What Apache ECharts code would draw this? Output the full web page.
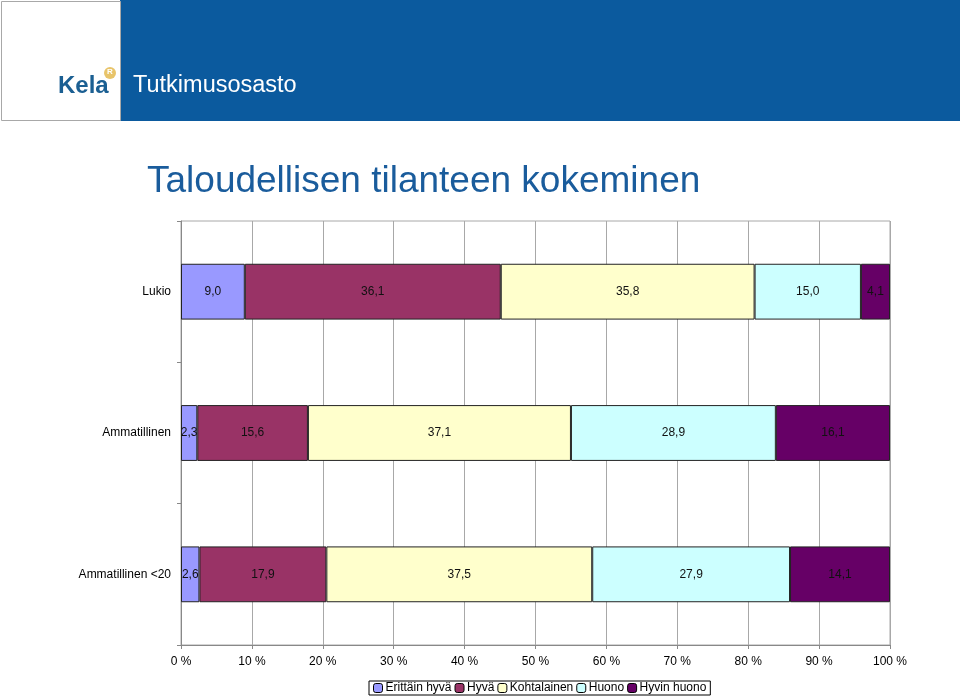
<!DOCTYPE html>
<html>
<head>
<meta charset="utf-8">
<script src="https://cdn.jsdelivr.net/npm/echarts@6/dist/echarts.min.js"></script>
<style>
  html, body { margin: 0; padding: 0; background: #fff; }
  #chart { width: 960px; height: 698px; }
</style>
</head>
<body>
<div id="chart"></div>
<script>
// ryhmät ylhäältä alas
const groups = ['Lukio', 'Ammatillinen', 'Ammatillinen <20']
const seriesNames = ['Erittäin hyvä', 'Hyvä', 'Kohtalainen', 'Huono', 'Hyvin huono']
const erittainHyva = [9.0, 2.3, 2.6]
const hyva = [36.1, 15.6, 17.9]
const kohtalainen = [35.8, 37.1, 37.5]
const huono = [15.0, 28.9, 27.9]
const hyvinHuono = [4.1, 16.1, 14.1]
const xTicks = [0, 10, 20, 30, 40, 50, 60, 70, 80, 90, 100]

const colors = ['#9999ff', '#993366', '#ffffcc', '#ccffff', '#660066']
const values = [erittainHyva, hyva, kohtalainen, huono, hyvinHuono]
const font = 'Liberation Sans, Arial, sans-serif'

const chart = echarts.init(document.getElementById('chart'))

chart.setOption({
  backgroundColor: '#fff',
  animation: false,
  textStyle: { fontFamily: font },
  graphic: [
    // otsikkopalkki
    { type: 'rect', shape: { x: 120, y: 0, width: 840, height: 121 }, style: { fill: '#0b5a9e' } },
    { type: 'rect', shape: { x: 1.5, y: 1.5, width: 119, height: 119 }, style: { fill: '#fff', stroke: '#a8a8a8', lineWidth: 1 } },
    { type: 'text', left: 58, top: 74, style: { text: 'Kela', fill: '#1b5f92', font: 'bold 24px ' + font } },
    { type: 'circle', shape: { cx: 110, cy: 73, r: 6 }, style: { fill: '#e8c46a' } },
    { type: 'text', left: 107, top: 68, style: { text: 'R', fill: '#fff', font: 'bold 8px ' + font } },
    { type: 'text', left: 133, top: 74, style: { text: 'Tutkimusosasto', fill: '#fff', font: '23.5px ' + font } },
    { type: 'text', left: 147, top: 163, style: { text: 'Taloudellisen tilanteen kokeminen', fill: '#1a5c9c', font: '37px ' + font } },
  ],
  legend: {
    data: seriesNames,
    left: 369,
    top: 681,
    orient: 'horizontal',
    itemWidth: 9,
    itemHeight: 9,
    itemGap: 3,
    padding: [1, 4],
    borderColor: '#000',
    borderWidth: 1,
    textStyle: { fontSize: 12, color: '#000', padding: [0, 0, 0, -2] },
    itemStyle: { borderColor: '#000', borderWidth: 1 },
  },
  grid: {
    left: 181, right: 70, top: 221, bottom: 53,
    show: true, borderColor: '#a8a8a8', borderWidth: 1,
  },
  xAxis: {
    type: 'value',
    min: 0, max: 100, interval: 10,
    axisLine: { show: true, lineStyle: { color: '#888' } },
    axisTick: { show: true, length: 4, lineStyle: { color: '#888' } },
    axisLabel: { color: '#000', fontSize: 12, margin: 11, formatter: (v) => xTicks.includes(v) ? v + ' %' : '' },
    splitLine: { show: true, lineStyle: { color: '#a8a8a8' } },
  },
  yAxis: {
    type: 'category',
    data: groups,
    inverse: true,
    axisLine: { show: true, lineStyle: { color: '#888' } },
    axisTick: { show: true, length: 4, lineStyle: { color: '#888' } },
    axisLabel: { color: '#000', fontSize: 12, margin: 10 },
  },
  series: seriesNames.map((name, i) => ({
    name,
    type: 'bar',
    stack: 'total',
    barWidth: '39.5%',
    data: values[i],
    itemStyle: { color: colors[i], borderColor: '#222', borderWidth: 1 },
    label: {
      show: true,
      position: 'inside',
      color: '#111',
      fontSize: 12,
      formatter: (p) => p.value.toFixed(1).replace('.', ','),
    },
  })),
})
</script>
</body>
</html>
